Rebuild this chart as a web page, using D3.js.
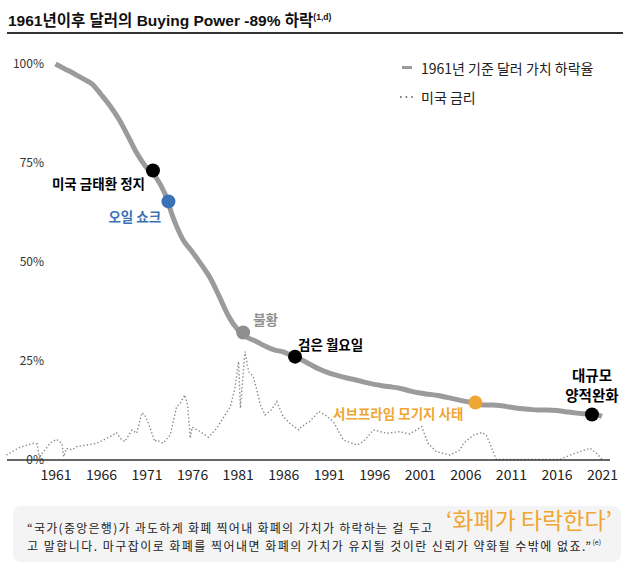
<!DOCTYPE html>
<html><head><meta charset="utf-8">
<script src="https://cdn.jsdelivr.net/npm/d3@7"></script>
<style>
body{margin:0;background:#fff;}
svg{display:block;}
text{font-family:"Noto Sans CJK KR","Noto Sans",sans-serif;}
</style></head>
<body><svg id="c" width="630" height="570"></svg>
<script>
// ---- data ----
const years = d3.range(1961, 2022);
const purchasingPower = [100,98.8,97.6,96.3,95.0,92.3,89.4,85.9,81.6,77.2,73.8,71.5,67.3,60.7,55.6,52.6,49.4,45.9,41.2,36.3,32.9,31.0,30.0,28.8,27.8,27.3,26.3,25.3,24.1,22.9,22.0,21.3,20.7,20.2,19.6,19.1,18.7,18.4,18.0,17.4,16.9,16.6,16.3,15.8,15.3,14.8,14.4,13.9,13.9,13.7,13.3,13.0,12.8,12.6,12.6,12.5,12.2,11.9,11.7,11.6,11.0];
const rateYears = [1955.6,1957.1,1958.6,1959.0,1959.2,1959.7,1960.4,1961.1,1961.7,1961.9,1962.2,1962.8,1963.3,1964.4,1965.5,1965.9,1967.0,1967.7,1968.1,1968.6,1969.4,1969.9,1970.5,1970.8,1971.2,1971.4,1971.9,1972.1,1972.8,1973.6,1974.3,1974.7,1975.2,1975.5,1975.8,1976.0,1976.9,1977.8,1978.7,1980.2,1980.7,1981.1,1981.3,1981.8,1982.2,1982.7,1983.1,1983.5,1984.0,1984.7,1985.3,1986.0,1986.7,1987.7,1987.8,1988.6,1988.9,1989.9,1990.6,1991.5,1992.6,1994.1,1994.8,1995.9,1997.4,1998.8,1999.9,2001.2,2001.9,2002.8,2004.3,2005.4,2005.8,2006.9,2007.8,2008.3,2009.4,2016.4,2017.8,2019.7,2020.4,2021.0];
const usRates = [0.96,2.44,3.21,3.08,0.63,1.6,3.21,3.98,3.21,0.63,2.25,1.92,2.56,2.88,3.21,3.52,4.48,5.25,4.17,3.52,5.77,5.13,9.1,8.65,7.06,6.1,3.52,3.85,3.21,4.81,10.25,10.9,12.5,10.58,4.17,6.29,5.44,4.37,6.1,10.25,13.79,18.9,9.94,20.83,16.98,16.02,13.46,10.58,8.65,9.62,11.21,8.33,7.06,5.77,6.1,7.06,7.37,9.29,8.65,7.37,3.85,2.88,3.52,5.77,5.13,5.44,5.0,6.4,3.21,1.6,0.96,1.92,3.21,4.81,5.25,4.81,0.1,0.13,1.15,2.25,1.29,0.13];
const xTicks = [1961,1966,1971,1976,1981,1986,1991,1996,2001,2006,2011,2016,2021];
const yTicks = [0,25,50,75,100];
const eventLabels = ["미국 금태환 정지","오일 쇼크","불황","검은 월요일","서브프라임 모기지 사태","대규모 양적완화"];
const eventYears = [1971.7,1973.4,1981.6,1987.3,2007.1,2019.9];
const eventValues = [73.1,65.3,32.2,26.1,14.5,11.5];
const legendLabels = ["1961년 기준 달러 가치 하락율","미국 금리"];
const titleText = "1961년이후 달러의 Buying Power -89% 하락";
const titleNote = "(1,d)";
const quoteLine1 = "“국가(중앙은행)가 과도하게 화폐 찍어내 화폐의 가치가 하락하는 걸 두고";
const quoteHighlight = "‘화폐가 타락한다’";
const quoteLine2 = "고 말합니다. 마구잡이로 화폐를 찍어내면 화폐의 가치가 유지될 것이란 신뢰가 약화될 수밖에 없죠.”";
const quoteNote = "(e)";

// ---- drawing ----
const svg = d3.select("#c");
const x = d3.scaleLinear().domain([1961, 2021]).range([55.5, 602]);
const y = d3.scaleLinear().domain([0, 100]).range([460, 64]);
const yRate = d3.scaleLinear().domain([0, 76]).range([460, 64]);

// title
const t = svg.append("text").attr("x", 8).attr("y", 26)
  .style("font-family", '"Liberation Sans","Noto Sans CJK KR",sans-serif')
  .attr("font-weight", "bold").attr("font-size", 15.5).attr("fill", "#111");
t.append("tspan").text(titleText);
t.append("tspan").attr("font-size", 8.5).attr("dy", -6).text(titleNote);
svg.append("line").attr("x1", 7).attr("x2", 623).attr("y1", 33).attr("y2", 33)
  .attr("stroke", "#333").attr("stroke-width", 2);

// y axis
const yAxis = svg.append("g").attr("transform", "translate(44,0)")
  .call(d3.axisLeft(y).tickValues(yTicks).tickSize(0).tickPadding(0).tickFormat(d => d + "%"));
yAxis.select(".domain").remove();
yAxis.selectAll("text").attr("font-size", 12).attr("fill", "#333")
  .style("font-family", '"Noto Sans CJK KR",sans-serif');

// rate dotted line
const rateLine = d3.line().x((d, i) => x(rateYears[i])).y(d => yRate(d));
svg.append("path").datum(usRates).attr("d", rateLine)
  .attr("fill", "none").attr("stroke", "#8a8a8a").attr("stroke-width", 1.4)
  .attr("stroke-dasharray", "1.4 2.2");

// baseline
svg.append("line").attr("x1", 7).attr("x2", 610).attr("y1", y(0)).attr("y2", y(0))
  .attr("stroke", "#333").attr("stroke-width", 1.5);

// x axis
const xAxis = svg.append("g").attr("transform", `translate(0,${y(0)})`)
  .call(d3.axisBottom(x).tickValues(xTicks).tickSize(0).tickPadding(10).tickFormat(d3.format("d")));
xAxis.select(".domain").remove();
xAxis.selectAll("text").attr("font-size", 14).attr("fill", "#222")
  .style("font-family", '"Noto Sans CJK KR",sans-serif');

// main line
const ppLine = d3.line().x((d, i) => x(years[i])).y(d => y(d)).curve(d3.curveMonotoneX);
svg.append("path").datum(purchasingPower).attr("d", ppLine)
  .attr("fill", "none").attr("stroke", "#9b9b9b").attr("stroke-width", 5)
  .attr("stroke-linecap", "butt").attr("stroke-linejoin", "round");

// event dots
const dotColors = ["#000", "#3c71b6", "#8f8f8f", "#000", "#f0a634", "#000"];
svg.selectAll("circle.ev").data(eventYears).join("circle").attr("class", "ev")
  .attr("cx", d => x(d)).attr("cy", (d, i) => y(eventValues[i])).attr("r", 7)
  .attr("fill", (d, i) => dotColors[i]);

// event labels
const lab = [
  {i:0, dx:-101, dy:12, anchor:"start"},
  {i:1, dx:-60, dy:15, anchor:"start"},
  {i:2, dx:10, dy:-13, anchor:"start"},
  {i:3, dx:3, dy:-13, anchor:"start"},
  {i:4, dx:-12, dy:10, anchor:"end"}
];
lab.forEach(l => {
  svg.append("text").attr("x", x(eventYears[l.i]) + l.dx).attr("y", y(eventValues[l.i]) + l.dy)
    .attr("dominant-baseline", "central").attr("text-anchor", l.anchor)
    .attr("font-size", 13.5).attr("font-weight", "bold").attr("fill", dotColors[l.i])
    .text(eventLabels[l.i]);
});
const qeParts = eventLabels[5].split(" ");
qeParts.forEach((p, k) => {
  svg.append("text").attr("x", x(eventYears[5])).attr("y", y(eventValues[5]) - 40 + k * 20.5)
    .attr("text-anchor", "middle").attr("dominant-baseline", "central")
    .attr("font-size", 14.5).attr("font-weight", "bold").attr("fill", "#000").text(p);
});

// legend
const lg = svg.append("g");
lg.append("line").attr("x1", 402).attr("x2", 412).attr("y1", 67.5).attr("y2", 67.5)
  .attr("stroke", "#9b9b9b").attr("stroke-width", 3);
lg.append("line").attr("x1", 400).attr("x2", 414).attr("y1", 97).attr("y2", 97)
  .attr("stroke", "#555").attr("stroke-width", 1.6).attr("stroke-dasharray", "1.6 4");
lg.selectAll("text").data(legendLabels).join("text")
  .attr("x", 421).attr("y", (d, i) => 67.5 + i * 29.5).attr("dominant-baseline", "central")
  .attr("font-size", 14).attr("fill", "#222").text(d => d);

// quote box
svg.append("rect").attr("x", 13).attr("y", 506).attr("width", 608).attr("height", 56)
  .attr("rx", 8).attr("fill", "#f4f4f4");
svg.append("text").attr("x", 27).attr("y", 527).attr("dominant-baseline", "central")
  .attr("font-size", 12).attr("fill", "#222")
  .attr("textLength", 405).attr("lengthAdjust", "spacing").text(quoteLine1);
svg.append("text").attr("x", 612).attr("y", 519).attr("dominant-baseline", "central")
  .attr("text-anchor", "end").attr("font-size", 23).attr("fill", "#f0a634").text(quoteHighlight);
const q2 = svg.append("text").attr("x", 27).attr("y", 545).attr("dominant-baseline", "central")
  .attr("font-size", 12).attr("fill", "#222");
q2.append("tspan").attr("textLength", 564).attr("lengthAdjust", "spacing").text(quoteLine2);
q2.append("tspan").attr("font-size", 7).attr("dy", -3).text(quoteNote);
</script></body></html>
